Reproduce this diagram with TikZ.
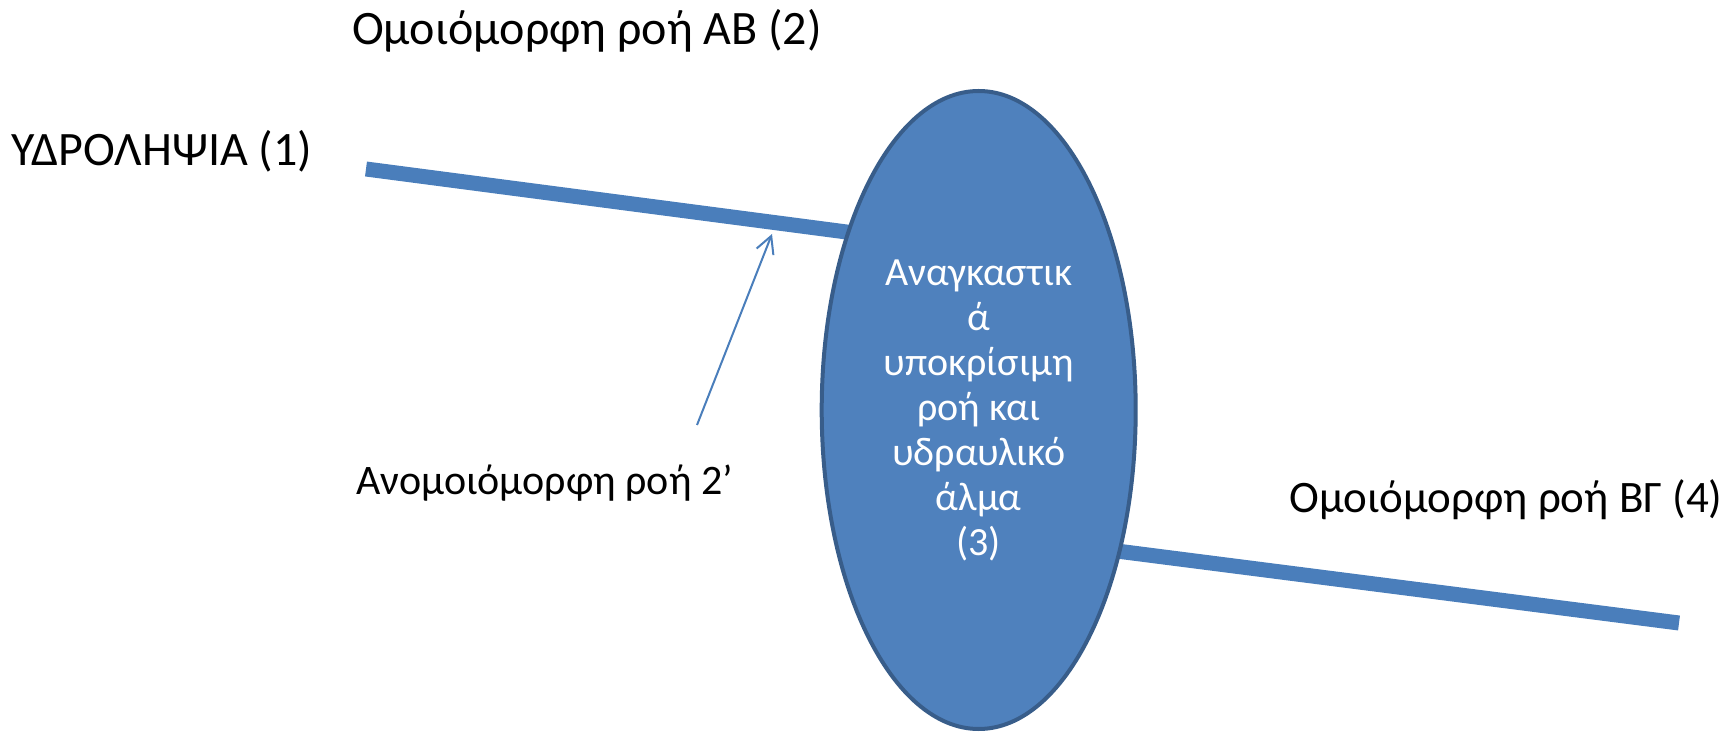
\documentclass[tikz,border=0pt]{standalone}
\usepackage{fontspec}
\setmainfont{Carlito}
\usetikzlibrary{shapes.geometric,arrows.meta}
\definecolor{pipe}{HTML}{4A7EBB}
\definecolor{jumpfill}{HTML}{4F81BD}
\definecolor{jumpline}{HTML}{385D8A}
\tikzset{
  pipeline/.style={draw=pipe,line width=7.5pt,line cap=butt},
  label/.style={inner sep=0pt,font=\fontsize{24}{29}\selectfont,text=black},
  pointer/.style={draw=pipe,line width=1pt,-{Straight Barb[length=8.5pt,width=9pt,line width=1pt]}},
  jump/.style={ellipse,draw=jumpline,fill=jumpfill,line width=2pt,
    minimum width=157pt,minimum height=319pt,inner sep=0pt,
    text=white,align=center,font=\fontsize{20}{22.5}\selectfont}
}
\begin{document}
\begin{tikzpicture}[x=0.5pt,y=-0.5pt]
  \useasboundingbox (0,0) rectangle (1730,732);
  % channel reaches on either side of the jump
  \coordinate (intake) at (366,169);
  \coordinate (upin) at (900,239);
  \coordinate (downout) at (1070,545);
  \coordinate (outlet) at (1679,623);
  \draw[pipeline] (intake) -- (upin);
  \draw[pipeline] (downout) -- (outlet);
  % hydraulic jump region
  \node[jump] (jump) at (978.7,410)
    {Αναγκαστικ\\ά\\υποκρίσιμη\\ροή και\\υδραυλικό\\άλμα\\(3)};
  % labels
  \node[label] (lab1) at (162,151) {ΥΔΡΟΛΗΨΊΑ (1)};
  \node[label] (lab2) at (587,31) {Ομοιόμορφη ροή ΑΒ (2)};
  \node[label,font=\fontsize{21}{25}\selectfont] (lab2p) at (544.5,483) {Ανομοιόμορφη ροή 2’};
  \node[label,font=\fontsize{22.5}{27}\selectfont] (lab4) at (1506,500) {Ομοιόμορφη ροή ΒΓ (4)};
  % pointer to the non-uniform stretch
  \coordinate (ptail) at (697,425);
  \coordinate (phead) at (772,234);
  \draw[pointer] (ptail) -- (phead);
\end{tikzpicture}
\end{document}
